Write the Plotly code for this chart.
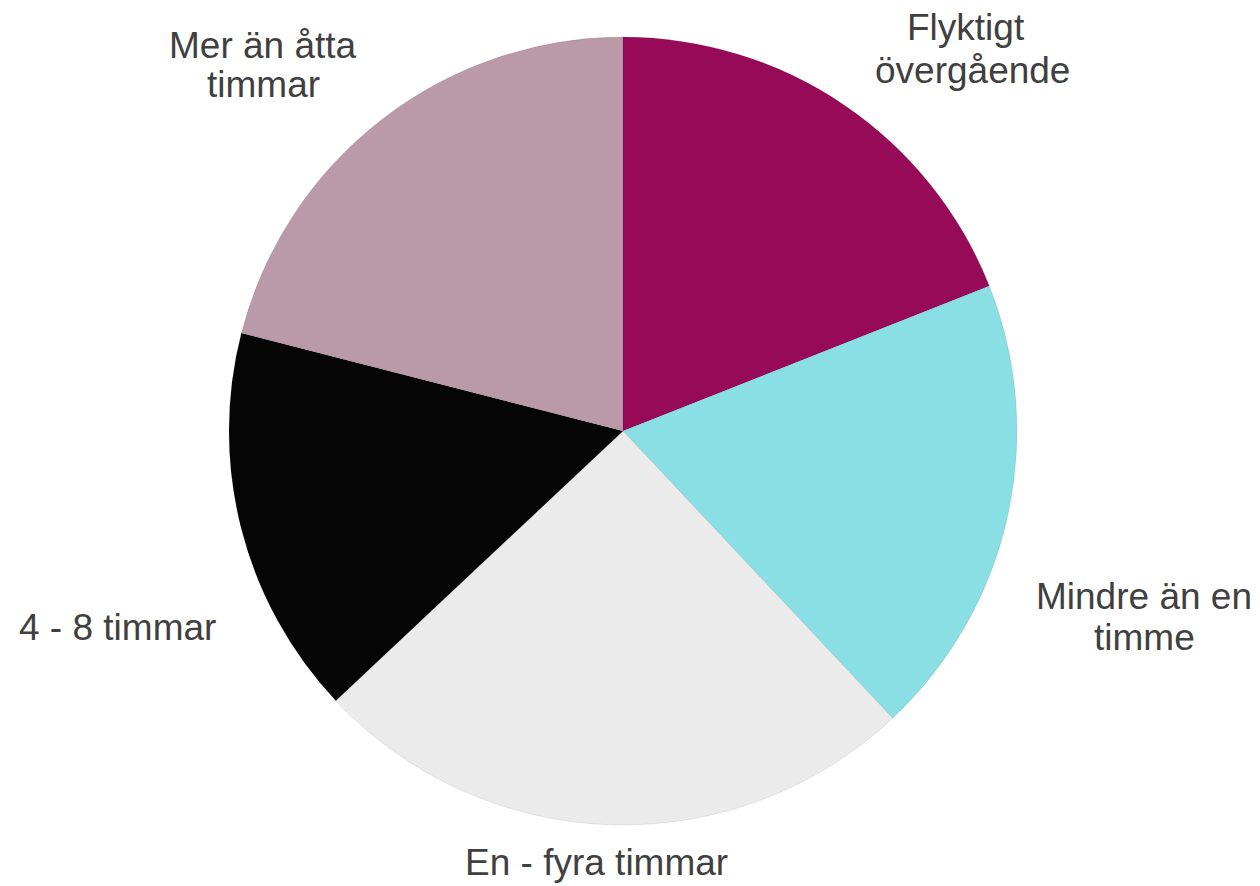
import plotly.graph_objects as go

categories = ["Flyktigt övergående", "Mindre än en timme", "En - fyra timmar", "4 - 8 timmar", "Mer än åtta timmar"]
values = [19, 19, 25, 16, 21]
colors = ["#970A58", "#8ADFE4", "#EBEBEB", "#050505", "#BA9AA8"]

# label lines and their centre positions (screen pixels)
label_lines = [
    ("Flyktigt", 966, 28), ("övergående", 972, 70),
    ("Mindre än en", 1144, 596), ("timme", 1144, 637),
    ("En - fyra timmar", 596, 862),
    ("4 - 8 timmar", 117, 627),
    ("Mer än åtta", 263, 45), ("timmar", 263, 85),
]

OFF = 8  # default body margin of the html page
W, H = 1252, 878
cx, cy, r = 623 - OFF, 431 - OFF, 394

fig = go.Figure(go.Pie(
    labels=categories,
    values=values,
    sort=False,
    direction="clockwise",
    rotation=0,
    marker=dict(colors=colors, line=dict(color="rgba(0,0,0,0.15)", width=0.5)),
    textinfo="none",
    hoverinfo="label+percent",
    showlegend=False,
    domain=dict(x=[(cx - r) / W, (cx + r) / W], y=[(H - cy - r) / H, (H - cy + r) / H]),
))

annotations = []
for txt, x, y in label_lines:
    annotations.append(dict(
        x=(x - OFF) / W, y=1 - (y - OFF) / H, xref="paper", yref="paper",
        text=txt, showarrow=False, xanchor="center", yanchor="middle",
        font=dict(family="Liberation Sans, Arial, sans-serif", size=37, color="#404040"),
    ))

fig.update_layout(
    width=W, height=H,
    margin=dict(l=0, r=0, t=0, b=0),
    paper_bgcolor="white",
    plot_bgcolor="white",
    annotations=annotations,
)

fig.write_html("out.html")
